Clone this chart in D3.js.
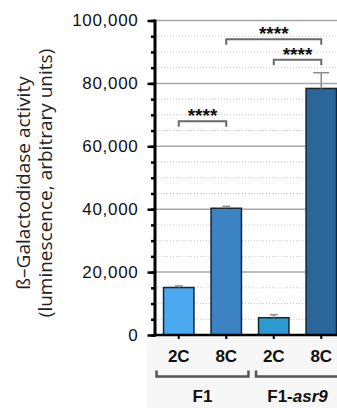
<!DOCTYPE html>
<html>
<head>
<meta charset="utf-8">
<script src="https://cdn.jsdelivr.net/npm/d3@7"></script>
<style>
body { margin: 0; background: #fff; }
svg { display: block; }
.tick-label { font-family: "Liberation Sans", Arial, sans-serif; font-size: 17px; fill: #111; }
.cat-label { font-family: "Liberation Sans", Arial, sans-serif; font-size: 17px; font-weight: bold; fill: #111; }
.y-title { font-family: "Open Sans", sans-serif; font-size: 19px; fill: #222; }
.stars { font-family: "Liberation Sans", Arial, sans-serif; font-size: 19px; font-weight: bold; fill: #111; }
</style>
</head>
<body>
<div id="chart"></div>
<script>
// data
var categories = ["2C", "8C", "2C", "8C"];
var groups = ["F1", "F1-asr9"];
var groupOf = [0, 0, 1, 1];
var values = [15100, 40300, 5500, 78400];
var errors = [500, 600, 950, 5000];
var barColors = ["#4aa9ef", "#3b83c3", "#2d9bd0", "#2a6699"];
var yTicks = [0, 20000, 40000, 60000, 80000, 100000];
// significance pairs (bar indices) with bracket height in data units
var sigPairs = [[0, 1], [1, 3], [2, 3]];
var sigLevels = [68000, 94000, 87500];
var sigText = ["****", "****", "****"];

var width = 337, height = 408;
var plotLeft = 155, plotTop = 20.5, plotBottom = 335;

var svg = d3.select("#chart")
	.append("svg")
	.attr("width", width)
	.attr("height", height);

var x = d3.scaleBand()
	.domain(d3.range(categories.length))
	.range([plotLeft, plotLeft + 4 * 47.5])
	.paddingInner(0.36)
	.paddingOuter(0.18);

var y = d3.scaleLinear()
	.domain([0, 100000])
	.range([plotBottom, plotTop]);

// light band under the axis
svg.append("rect")
	.attr("x", 147).attr("y", plotBottom + 1)
	.attr("width", width - 147).attr("height", height - plotBottom)
	.attr("fill", "#f7f7f7");

// dotted minor grid
svg.append("g")
	.selectAll("line")
	.data(d3.range(5000, 100000, 5000).filter(function(d){ return d % 20000 != 0; }))
	.enter()
	.append("line")
		.attr("x1", plotLeft).attr("x2", width)
		.attr("y1", function(d){ return y(d); })
		.attr("y2", function(d){ return y(d); })
		.attr("stroke", "#c8c8c8")
		.attr("stroke-width", 1)
		.attr("stroke-dasharray", "1,2");

// solid major grid
svg.append("g")
	.selectAll("line")
	.data(yTicks.slice(1))
	.enter()
	.append("line")
		.attr("x1", plotLeft).attr("x2", width)
		.attr("y1", function(d){ return y(d); })
		.attr("y2", function(d){ return y(d); })
		.attr("stroke", "#a8a8a8")
		.attr("stroke-width", 1.5);

// bars
svg.append("g")
	.selectAll("rect")
	.data(values)
	.enter()
	.append("rect")
		.attr("x", function(d, i){ return x(i); })
		.attr("y", function(d){ return y(d); })
		.attr("width", x.bandwidth())
		.attr("height", function(d){ return plotBottom - y(d); })
		.attr("fill", function(d, i){ return barColors[i]; })
		.attr("stroke", "#14263a")
		.attr("stroke-width", 1.5);

// error bars
var err = svg.append("g").attr("stroke", "#8c8c8c").attr("stroke-width", 1.5);
values.forEach(function(v, i){
	var cx = x(i) + x.bandwidth() / 2;
	var cap = errors[i] > 2000 ? 8 : 4;
	err.append("line")
		.attr("x1", cx).attr("x2", cx)
		.attr("y1", y(v)).attr("y2", y(v + errors[i]));
	err.append("line")
		.attr("x1", cx - cap).attr("x2", cx + cap)
		.attr("y1", y(v + errors[i])).attr("y2", y(v + errors[i]));
});

// y axis with major and minor ticks
var yAxisMinor = d3.axisLeft(y)
	.tickValues(d3.range(0, 100001, 5000))
	.tickSize(4)
	.tickFormat("");
svg.append("g")
	.attr("transform", "translate(" + plotLeft + ",0)")
	.call(yAxisMinor)
	.call(function(g){
		g.select(".domain").remove();
		g.selectAll("line").attr("stroke", "#000").attr("stroke-width", 2.5);
	});

var yAxis = d3.axisLeft(y)
	.tickValues(yTicks)
	.tickSize(7.5)
	.tickPadding(9)
	.tickFormat(d3.format(","));
svg.append("g")
	.attr("transform", "translate(" + plotLeft + ",0)")
	.call(yAxis)
	.call(function(g){
		g.select(".domain").remove();
		g.selectAll("line").attr("stroke", "#000").attr("stroke-width", 2.5);
		g.selectAll("text")
			.attr("class", "tick-label")
			.attr("font-family", null).attr("font-size", null)
			.style("letter-spacing", "0.7px");
	});

svg.append("line")
	.attr("x1", plotLeft).attr("x2", plotLeft)
	.attr("y1", plotTop - 1).attr("y2", plotBottom + 1.5)
	.attr("stroke", "#000").attr("stroke-width", 3);

// x axis
var xAxis = d3.axisBottom(x)
	.tickSize(4)
	.tickSizeOuter(0)
	.tickFormat(function(i){ return categories[i]; });
svg.append("g")
	.attr("transform", "translate(0," + plotBottom + ")")
	.call(xAxis)
	.call(function(g){
		g.select(".domain").attr("d", "M" + plotLeft + ",0H" + width).attr("stroke", "#000").attr("stroke-width", 2.5);
		g.selectAll("line").attr("stroke", "#000").attr("stroke-width", 2);
		g.selectAll("text")
			.attr("class", "cat-label")
			.attr("font-family", null).attr("font-size", null)
			.attr("y", 15).attr("dy", "0.71em");
	});

// y title
var title = svg.append("text")
	.attr("class", "y-title")
	.attr("text-anchor", "middle")
	.attr("transform", "translate(30,183) rotate(-90)");
title.append("tspan").attr("x", 0).attr("y", 0).text("ß–Galactodidase activity");
title.append("tspan").attr("x", 0).attr("y", 22).text("(luminescence, arbitrary units)");

// significance brackets
var sig = svg.append("g");
sigPairs.forEach(function(p, k){
	var x1 = x(p[0]) + x.bandwidth() / 2,
		x2 = x(p[1]) + x.bandwidth() / 2,
		yy = y(sigLevels[k]);
	sig.append("path")
		.attr("d", "M" + x1 + "," + (yy + 5.5) + "V" + yy + "H" + x2 + "V" + (yy + 5.5))
		.attr("fill", "none")
		.attr("stroke", "#6a6a6a")
		.attr("stroke-width", 2);
	sig.append("text")
		.attr("class", "stars")
		.attr("text-anchor", "middle")
		.attr("x", (x1 + x2) / 2)
		.attr("y", yy + 1)
		.text(sigText[k]);
});

// group brackets
groups.forEach(function(g, k){
	var idx = d3.range(categories.length).filter(function(i){ return groupOf[i] == k; });
	var gx1 = x(idx[0]) - (k == 0 ? 7 : 2.5),
		gx2 = x(idx[idx.length - 1]) + x.bandwidth() + 7;
	svg.append("path")
		.attr("d", "M" + gx1 + ",370.5V376.5H" + gx2 + "V370.5")
		.attr("fill", "none")
		.attr("stroke", "#555")
		.attr("stroke-width", 2.5);
	var t = svg.append("text")
		.attr("class", "cat-label")
		.attr("text-anchor", "middle")
		.attr("x", (x(idx[0]) + x(idx[idx.length - 1]) + x.bandwidth()) / 2)
		.attr("y", 402);
	var parts = g.split("-");
	t.append("tspan").text(parts[0]);
	if (parts.length > 1) {
		t.append("tspan").text("-");
		t.append("tspan").style("font-style", "italic").text(parts[1]);
	}
});
</script>
</body>
</html>
